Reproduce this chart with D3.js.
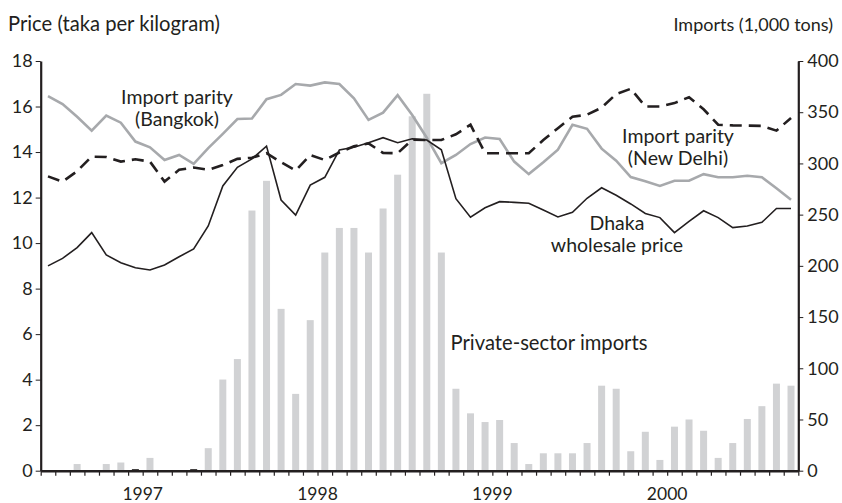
<!DOCTYPE html>
<html>
<head>
<meta charset="utf-8">
<script src="https://cdn.jsdelivr.net/npm/d3@7"></script>
<style>
  body { margin: 0; background: #fff; }
  svg { font-family: Lato, 'Open Sans', sans-serif; }
  .axis path, .axis line { stroke: #231f20; }
  .axis text { fill: #231f20; font-size: 18px; font-family: Lato, sans-serif; }
</style>
</head>
<body>
<div id="chart"></div>
<script>
// monthly data, June 1996 - Sept 2000
var months = d3.range(52).map(function(i) {
  var d = new Date(1996, 5 + i, 1);
  return d.getFullYear() + '-' + ('0' + (d.getMonth() + 1)).slice(-2);
});

var years = ['1997', '1998', '1999', '2000'];

// Private-sector imports (1,000 tons), right axis
var imports = [0, 0, 6.5, 0, 6.5, 8, 1.5, 12.5, 0, 0, 1.5, 22,
  89, 109, 254, 283, 158, 75, 147, 213, 237, 237, 213, 256,
  289, 346, 368, 213, 80, 56, 47.5, 49.5, 27, 6.5, 17, 17,
  17, 27, 83, 80, 19, 38, 10.5, 43, 50, 39, 12.5, 27,
  50.5, 63, 85, 83];

// Dhaka wholesale price (taka/kg)
var dhaka = [9.0, 9.33, 9.8, 10.46, 9.48, 9.14, 8.92, 8.82, 9.04, 9.4, 9.74, 10.75,
  12.51, 13.33, 13.7, 14.26, 11.89, 11.23, 12.55, 12.89, 14.09, 14.21, 14.41, 14.63,
  14.41, 14.58, 14.53, 14.1, 11.95, 11.14, 11.55, 11.82, 11.79, 11.75, 11.45, 11.15,
  11.35, 11.97, 12.43, 12.1, 11.72, 11.3, 11.12, 10.46, 10.95, 11.42, 11.12, 10.68,
  10.75, 10.91, 11.52, 11.52];

// Import parity (Bangkok)
var bangkok = [16.46, 16.11, 15.55, 14.94, 15.6, 15.29, 14.46, 14.21, 13.65, 13.87, 13.48, 14.17,
  14.8, 15.45, 15.47, 16.32, 16.51, 16.99, 16.92, 17.06, 16.99, 16.36, 15.41, 15.73,
  16.5, 15.63, 14.63, 13.51, 13.87, 14.35, 14.64, 14.57, 13.58, 13.03, 13.55, 14.1,
  15.2, 15.02, 14.15, 13.62, 12.9, 12.72, 12.51, 12.74, 12.74, 13.03, 12.89, 12.89,
  12.96, 12.89, 12.41, 11.9];

// Import parity (New Delhi)
var delhi = [12.93, 12.7, 13.16, 13.8, 13.78, 13.58, 13.68, 13.58, 12.7, 13.22, 13.32, 13.22,
  13.43, 13.7, 13.75, 13.95, 13.55, 13.19, 13.87, 13.65, 13.98, 14.25, 14.38, 13.96,
  13.95, 14.54, 14.53, 14.53, 14.78, 15.2, 13.95, 13.95, 13.95, 13.95, 14.53, 15.05,
  15.55, 15.64, 15.95, 16.55, 16.78, 16.0, 16.0, 16.15, 16.41, 15.88, 15.2, 15.17,
  15.16, 15.15, 14.94, 15.5];

var priceTicks = d3.range(0, 19, 2);
var importTicks = d3.range(0, 401, 50);

// set up chart
var width = 842,
  height = 503;

var plotLeft = 40.7, plotRight = 798.3, plotTop = 61, plotBottom = 470.7;

var svg = d3.select('#chart').append('svg')
    .attr('width', width)
    .attr('height', height);

var x = d3.scaleBand()
    .domain(months)
    .range([plotLeft, plotRight])
    .paddingInner(0.52)
    .paddingOuter(0.26);

// month boundaries for ticks
var xm = d3.scaleLinear()
    .domain([0, months.length])
    .range([plotLeft, plotRight]);

var yL = d3.scaleLinear().domain([0, 18]).range([plotBottom, plotTop]);
var yR = d3.scaleLinear().domain([0, 400]).range([plotBottom, plotTop]);

// bars (very small months show up dark in the original)
svg.append('g')
  .selectAll('rect')
  .data(imports)
  .enter().append('rect')
  .attr('x', function(d, i) { return x(months[i]); })
  .attr('width', x.bandwidth())
  .attr('y', function(d) { return yR(d); })
  .attr('height', function(d) { return plotBottom - yR(d); })
  .style('fill', function(d) { return d < 3 ? '#231f20' : '#d1d2d4'; });

function cx(i) { return xm(i + 0.5); }

var line = d3.line()
    .x(function(d, i) { return cx(i); })
    .y(function(d) { return yL(d); });

svg.append('path')
  .datum(bangkok)
  .attr('d', line)
  .style('fill', 'none')
  .style('stroke', '#a7a9ac')
  .style('stroke-width', 2.6);

svg.append('path')
  .datum(delhi)
  .attr('d', line)
  .style('fill', 'none')
  .style('stroke', '#231f20')
  .style('stroke-width', 2.6)
  .style('stroke-dasharray', '12,7');

svg.append('path')
  .datum(dhaka)
  .attr('d', line)
  .style('fill', 'none')
  .style('stroke', '#231f20')
  .style('stroke-width', 1.6);

// axes
var yAxisL = d3.axisLeft(yL).tickValues(priceTicks).tickSize(5).tickSizeOuter(0).tickPadding(3);
svg.append('g')
  .attr('class', 'axis')
  .attr('transform', 'translate(' + plotLeft + ',0)')
  .call(yAxisL)
  .select('.domain').style('stroke-width', 2.2);

var yAxisR = d3.axisRight(yR).tickValues(importTicks).tickSize(5).tickSizeOuter(0).tickPadding(4);
svg.append('g')
  .attr('class', 'axis')
  .attr('transform', 'translate(' + plotRight + ',0)')
  .call(yAxisR)
  .select('.domain').style('stroke-width', 2.2);

var xAxis = d3.axisBottom(xm).tickValues(d3.range(months.length + 1)).tickSize(5).tickSizeOuter(0).tickFormat('');
var gx = svg.append('g')
  .attr('class', 'axis')
  .attr('transform', 'translate(0,' + plotBottom + ')')
  .call(xAxis);
gx.select('.domain').style('stroke-width', 2.6);
gx.selectAll('.tick line').style('stroke-width', 1.2);

// year labels at January of each year
svg.selectAll('.year')
  .data(years)
  .enter().append('text')
  .attr('class', 'year')
  .attr('x', function(d) { return xm(months.indexOf(d + '-01')); })
  .attr('y', 500)
  .attr('text-anchor', 'middle')
  .style('font-size', '17.5px')
  .style('fill', '#231f20')
  .text(function(d) { return d; });

// axis titles
svg.append('text')
  .attr('x', 8)
  .attr('y', 31)
  .style('font-size', '20.2px')
  .style('fill', '#231f20')
  .text('Price (taka per kilogram)');

svg.append('text')
  .attr('x', 833)
  .attr('y', 31)
  .attr('text-anchor', 'end')
  .style('font-size', '18px')
  .style('fill', '#231f20')
  .text('Imports (1,000 tons)');

// series labels
var labels = [
  {t: ['Import parity', '(Bangkok)'], x: 177, y: 104, s: 19.5},
  {t: ['Import parity', '(New Delhi)'], x: 678, y: 143, s: 19.5},
  {t: ['Dhaka', 'wholesale price'], x: 617, y: 230, s: 19.5},
  {t: ['Private-sector imports'], x: 549, y: 350, s: 20.2}
];

labels.forEach(function(l) {
  var txt = svg.append('text')
    .attr('text-anchor', 'middle')
    .style('font-size', l.s + 'px')
    .style('fill', '#231f20');
  l.t.forEach(function(s, i) {
    txt.append('tspan')
      .attr('x', l.x)
      .attr('y', l.y + i * 21.5)
      .text(s);
  });
});
</script>
</body>
</html>
